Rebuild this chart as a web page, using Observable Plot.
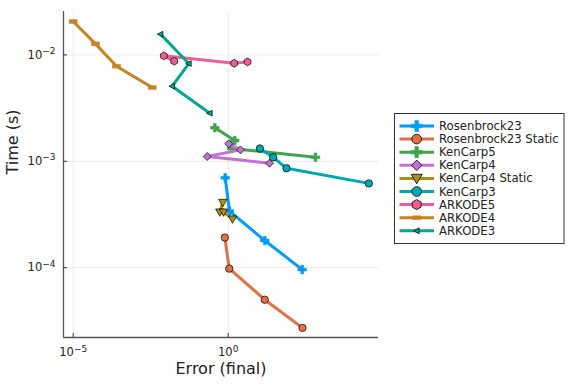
<!DOCTYPE html>
<html><head><meta charset="utf-8">
<script src="https://cdn.jsdelivr.net/npm/d3@7"></script>
<script src="https://cdn.jsdelivr.net/npm/@observablehq/plot@0.6"></script>
<style>body{margin:0;background:#fff} svg{display:block}</style>
</head><body><div id="chart"></div>
<script>
// ---- data ----
const seriesNames = ["Rosenbrock23","Rosenbrock23 Static","KenCarp5","KenCarp4","KenCarp4 Static","KenCarp3","ARKODE5","ARKODE4","ARKODE3"];
const seriesColors = ["#009AFA","#E36F47","#3EA44E","#C371D2","#AC8E18","#00A9AD","#ED5E93","#C68225","#00A98D"];
const seriesMarkers = ["cross","circle","cross","diamond","dtriangle","circle","hexagon","hline","ltriangle"];

const errRosenbrock23 = [0.80, 1.10, 15.1, 244];
const timeRosenbrock23 = [7.0e-4, 3.4e-4, 1.8e-4, 9.6e-5];
const errRosenbrock23Static = [0.78, 1.08, 15.1, 249];
const timeRosenbrock23Static = [1.92e-4, 9.8e-5, 5.0e-5, 2.72e-5];
const errKenCarp5 = [0.37, 1.63, 1.28, 655];
const timeKenCarp5 = [2.07e-3, 1.57e-3, 1.32e-3, 1.09e-3];
const errKenCarp4 = [1.04, 2.49, 0.21, 21.5];
const timeKenCarp4 = [1.46e-3, 1.28e-3, 1.11e-3, 9.6e-4];
const errKenCarp4Static = [0.67, 0.536, 0.705, 1.38];
const timeKenCarp4Static = [4.1e-4, 3.33e-4, 3.33e-4, 2.86e-4];
const errKenCarp3 = [10.5, 28.3, 76, 34300];
const timeKenCarp3 = [1.32e-3, 1.09e-3, 8.6e-4, 6.2e-4];
const errARKODE5 = [0.0181, 0.00837, 1.56, 4.2];
const timeARKODE5 = [8.73e-3, 9.8e-3, 8.35e-3, 8.6e-3];
const errARKODE4 = [1e-5, 5.24e-5, 2.49e-4, 3.53e-3];
const timeARKODE4 = [0.0206, 0.0127, 0.00783, 0.00494];
const errARKODE3 = [0.00655, 0.0536, 0.0156, 0.255];
const timeARKODE3 = [0.01567, 0.0083, 0.00508, 0.00283];

const xTicks = [1e-5, 1];
const xTickLabels = ["10^\u22125", "10^0"];
const yTicks = [1e-4, 1e-3, 1e-2];
const yTickLabels = ["10^\u22124", "10^\u22123", "10^\u22122"];
const xLabel = "Error (final)";
const yLabel = "Time (s)";

const errs = [errRosenbrock23, errRosenbrock23Static, errKenCarp5, errKenCarp4, errKenCarp4Static, errKenCarp3, errARKODE5, errARKODE4, errARKODE3];
const times = [timeRosenbrock23, timeRosenbrock23Static, timeKenCarp5, timeKenCarp4, timeKenCarp4Static, timeKenCarp3, timeARKODE5, timeARKODE4, timeARKODE3];

// ---- marker shapes ----
function poly(ctx, pts){ ctx.moveTo(pts[0][0], pts[0][1]); for (let i=1;i<pts.length;i++) ctx.lineTo(pts[i][0], pts[i][1]); ctx.closePath(); }
function makeSymbol(kind){
  return {draw(ctx, size){
    const r = Math.sqrt(size/Math.PI);
    if (kind === "circle"){ ctx.moveTo(r,0); ctx.arc(0,0,r,0,2*Math.PI); }
    else if (kind === "cross"){ const t=r*0.33; poly(ctx, [[-t,-r],[t,-r],[t,-t],[r,-t],[r,t],[t,t],[t,r],[-t,r],[-t,t],[-r,t],[-r,-t],[-t,-t]]); }
    else if (kind === "diamond"){ poly(ctx, [[0,-r],[r,0],[0,r],[-r,0]]); }
    else if (kind === "hexagon"){ const p=[]; for(let k=0;k<6;k++){const a=Math.PI/6+k*Math.PI/3; p.push([r*Math.cos(a), r*Math.sin(a)]);} poly(ctx,p); }
    else if (kind === "dtriangle"){ poly(ctx, [[-r,-0.75*r],[r,-0.75*r],[0,r]]); }
    else if (kind === "ltriangle"){ poly(ctx, [[-r,0],[0.75*r,-0.9*r],[0.75*r,0.9*r]]); }
    else if (kind === "hline"){ ctx.rect(-r, -0.48*r, 2*r, 0.96*r); }
  }};
}
const markerStyle = {
  cross:     {r: 4.3, outline: false},
  circle:    {r: 3.7, outline: true},
  diamond:   {r: 4.0, outline: true},
  hexagon:   {r: 3.9, outline: true},
  dtriangle: {r: 4.2, outline: true},
  ltriangle: {r: 3.2, outline: true},
  hline:     {r: 4.0, outline: false}
};

// ---- layout ----
const W = 576, H = 384;
const mL = 63, mR = 198, mT = 11, mB = 47;
const xDomain = [Math.pow(10, -5.313), Math.pow(10, 4.848)];
const yDomain = [Math.pow(10, -4.656), Math.pow(10, -1.592)];
const plotW = W - mL - mR, plotH = H - mT - mB;

const marks = [
  Plot.gridX(xTicks, {stroke: "#000", strokeOpacity: 0.1, strokeWidth: 0.8}),
  Plot.gridY(yTicks, {stroke: "#000", strokeOpacity: 0.1, strokeWidth: 0.8}),
  Plot.ruleX([xDomain[0]], {stroke: "#555", strokeWidth: 1.3}),
  Plot.ruleY([yDomain[0]], {stroke: "#555", strokeWidth: 1.3}),
  Plot.ruleX(xTicks, {insetTop: plotH - 4, stroke: "#333", strokeWidth: 1}),
  Plot.ruleY(yTicks, {insetRight: plotW - 4, stroke: "#333", strokeWidth: 1}),
  Plot.axisX(xTicks, {tickSize: 0, tickPadding: 10.5, fontSize: 11.5, fill: "#222", label: null,
    tickFormat: d => xTickLabels[xTicks.indexOf(d)]}),
  Plot.axisY(yTicks, {tickSize: 0, tickPadding: 8, fontSize: 11.5, fill: "#222", label: null,
    tickFormat: d => yTickLabels[yTicks.indexOf(d)]}),
  Plot.text([xLabel], {frameAnchor: "bottom", dy: 36, fontSize: 16, fill: "#222", text: d => d}),
  Plot.text([yLabel], {frameAnchor: "left", dx: -51, rotate: -90, fontSize: 16, fill: "#222", text: d => d})
];

seriesNames.forEach((name, i) => {
  const rows = errs[i].map((e, j) => ({err: e, time: times[i][j]}));
  const ms = markerStyle[seriesMarkers[i]];
  marks.push(Plot.line(rows, {x: "err", y: "time", stroke: seriesColors[i], strokeWidth: 3, strokeLinejoin: "round", strokeLinecap: "butt"}));
  marks.push(Plot.dot(rows, {x: "err", y: "time", r: ms.r, symbol: makeSymbol(seriesMarkers[i]),
    fill: seriesColors[i], stroke: ms.outline ? "#000" : seriesColors[i], strokeWidth: ms.outline ? 0.7 : 0.5}));
});

const chart = Plot.plot({
  width: W, height: H,
  marginLeft: mL, marginRight: mR, marginTop: mT, marginBottom: mB,
  style: {fontFamily: "DejaVu Sans", background: "#fff"},
  x: {type: "log", domain: xDomain, label: null},
  y: {type: "log", domain: yDomain, label: null},
  marks
});
document.getElementById("chart").appendChild(chart);

const svg = d3.select(chart);
// superscript exponents in tick labels
svg.selectAll('g[aria-label="x-axis tick label"] text, g[aria-label="y-axis tick label"] text').each(function(){
  const parts = this.textContent.split("^");
  if (parts.length !== 2) return;
  const t = d3.select(this);
  t.text(null);
  t.append("tspan").text(parts[0]);
  t.append("tspan").attr("dy", "-0.5em").attr("font-size", 9).text(parts[1]);
});

// ---- legend ----
const lg = svg.append("g").attr("font-family", "DejaVu Sans").attr("font-size", 11.7).attr("text-anchor", "start");
const lx = 394.5, ly = 113.5, lw = 169.5, lh = 130;
lg.append("rect").attr("x", lx).attr("y", ly).attr("width", lw).attr("height", lh)
  .attr("fill", "#fff").attr("stroke", "#333").attr("stroke-width", 1);
seriesNames.forEach((name, i) => {
  const cy = 126 + i * 13.1;
  lg.append("line").attr("x1", 399.5).attr("x2", 434).attr("y1", cy).attr("y2", cy)
    .attr("stroke", seriesColors[i]).attr("stroke-width", 3);
  const ms = markerStyle[seriesMarkers[i]];
  const rr = seriesMarkers[i] === "ltriangle" || seriesMarkers[i] === "hline" ? ms.r : ms.r * 1.3;
  lg.append("path").attr("transform", `translate(416.7,${cy})`)
    .attr("d", d3.symbol(makeSymbol(seriesMarkers[i]), rr * rr * Math.PI)())
    .attr("fill", seriesColors[i]).attr("stroke", ms.outline ? "#000" : seriesColors[i])
    .attr("stroke-width", ms.outline ? 0.8 : 0.5);
  lg.append("text").attr("x", 439).attr("y", cy).attr("dy", "0.35em").attr("fill", "#222").text(name);
});
</script>
</body></html>
